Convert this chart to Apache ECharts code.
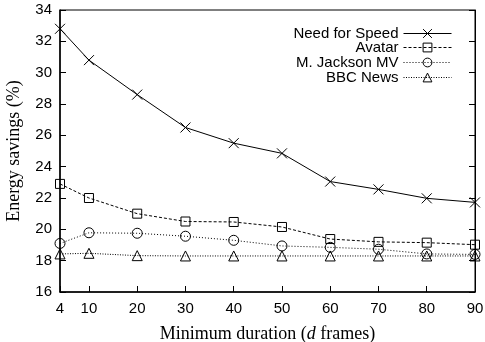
<!DOCTYPE html>
<html>
<head>
<meta charset="utf-8">
<script src="https://cdn.jsdelivr.net/npm/echarts@6/dist/echarts.min.js"></script>
<style>
  html, body { margin: 0; padding: 0; background: #fff; }
  #chart { width: 485px; height: 342px; }
</style>
</head>
<body>
<div id="chart"></div>
<script>
const durations = [4, 10, 20, 30, 40, 50, 60, 70, 80, 90]
const needForSpeed = [32.8, 30.8, 28.6, 26.5, 25.5, 24.85, 23.05, 22.55, 21.98, 21.72]
const avatar = [22.9, 22.0, 21.0, 20.5, 20.47, 20.15, 19.38, 19.2, 19.15, 19.02]
const jackson = [19.1, 19.78, 19.75, 19.56, 19.3, 18.94, 18.85, 18.73, 18.43, 18.4]
const bbcNews = [18.43, 18.47, 18.32, 18.3, 18.3, 18.3, 18.3, 18.3, 18.3, 18.3]

const seriesNames = ['Need for Speed', 'Avatar', 'M. Jackson MV', 'BBC News']

const chart = echarts.init(document.getElementById('chart'))

const crossPath = 'path://M0,0L10,10M10,0L0,10'
const tickFont = { fontFamily: 'Liberation Sans', fontSize: 15, color: '#000' }

const makeSeries = (name, values, symbol, symbolSize, dash) => ({
  name,
  type: 'line',
  data: values.map((v, i) => [durations[i], v]),
  symbol,
  symbolSize,
  showAllSymbol: true,
  itemStyle: { color: 'none', borderColor: '#000', borderWidth: 1 },
  lineStyle: { color: '#000', width: 1, type: dash },
  emphasis: { disabled: true },
  z: 3
})

// one legend per row so every row is right aligned
const legendTops = [26, 40, 55, 70]

chart.setOption({
  animation: false,
  backgroundColor: '#fff',
  grid: {
    left: 60, right: 10, top: 10, bottom: 50,
    outerBoundsMode: 'none',
    show: true, borderColor: '#000', borderWidth: 1
  },
  legend: seriesNames.map((name, i) => ({
    data: [name],
    right: 33,
    top: legendTops[i],
    align: 'right',
    itemWidth: 48,
    itemHeight: 11,
    itemGap: 0,
    padding: 0,
    selectedMode: false,
    lineStyle: { width: 1 },
    itemStyle: { borderWidth: 1 },
    textStyle: { fontFamily: 'Liberation Sans', fontSize: 15, color: '#000' }
  })),
  xAxis: {
    type: 'value',
    min: 4,
    max: 90,
    name: '{n|Minimum duration (}{i|d}{n| frames)}',
    nameLocation: 'middle',
    nameGap: 33,
    nameTextStyle: {
      rich: {
        n: { fontFamily: 'Liberation Serif', fontSize: 18, color: '#000' },
        i: { fontFamily: 'Liberation Serif', fontSize: 18, fontStyle: 'italic', color: '#000' }
      }
    },
    axisLine: { lineStyle: { color: '#000', width: 1.5 } },
    axisTick: { inside: true, length: 6, customValues: durations, lineStyle: { color: '#000' } },
    axisLabel: { ...tickFont, margin: 9, customValues: durations },
    splitLine: { show: false }
  },
  yAxis: [
    {
      type: 'value',
      min: 16,
      max: 34,
      interval: 2,
      name: 'Energy savings (%)',
      nameLocation: 'middle',
      nameGap: 37,
      nameTextStyle: { fontFamily: 'Liberation Serif', fontSize: 18, color: '#000' },
      axisLine: { show: true, lineStyle: { color: '#000', width: 1.5 } },
      axisTick: { show: true, inside: true, length: 6, lineStyle: { color: '#000' } },
      axisLabel: { ...tickFont, margin: 8 },
      splitLine: { show: false }
    },
    {
      type: 'value',
      position: 'right',
      min: 16,
      max: 34,
      interval: 2,
      axisLine: { show: true, lineStyle: { color: '#000', width: 1 } },
      axisTick: { show: true, inside: true, length: 6, lineStyle: { color: '#000' } },
      axisLabel: { show: false },
      splitLine: { show: false }
    }
  ],
  series: [
    makeSeries(seriesNames[0], needForSpeed, crossPath, 10, 'solid'),
    makeSeries(seriesNames[1], avatar, 'rect', 9, [3, 2]),
    makeSeries(seriesNames[2], jackson, 'circle', 10, [1, 2]),
    makeSeries(seriesNames[3], bbcNews, 'triangle', 10, [1, 1.5])
  ]
})
</script>
</body>
</html>
